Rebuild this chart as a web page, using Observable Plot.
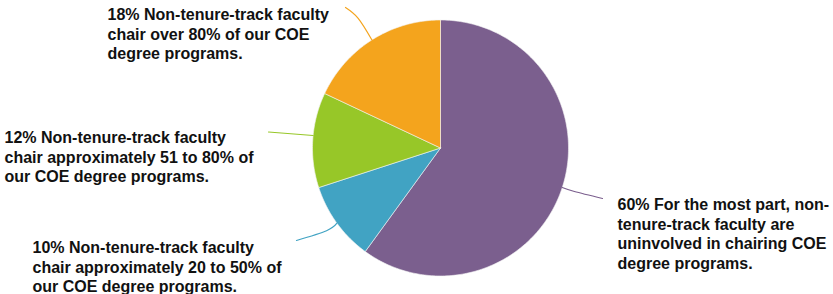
<!DOCTYPE html>
<html>
<head>
<meta charset="utf-8">
<script src="https://cdn.jsdelivr.net/npm/d3@7"></script>
<script src="https://cdn.jsdelivr.net/npm/@observablehq/plot@0.6"></script>
<style>
  html, body { margin: 0; padding: 0; background: #fff; }
  #chart svg { display: block; }
</style>
</head>
<body>
<div id="chart"></div>
<script>
// ---- data ----
const categories = [
  "60% For the most part, non-\ntenure-track faculty are\nuninvolved in chairing COE\ndegree programs.",
  "10% Non-tenure-track faculty\nchair approximately 20 to 50% of\nour COE degree programs.",
  "12% Non-tenure-track faculty\nchair approximately 51 to 80% of\nour COE degree programs.",
  "18% Non-tenure-track faculty\nchair over 80% of our COE\ndegree programs."
];
const values = [60, 10, 12, 18];
const colors = ["#7B5F8E", "#41A3C3", "#97C728", "#F4A41D"];

// ---- layout (not data) ----
const W = 833, H = 294;
const cx = 440, cy = 147.5, R = 128;
// label text anchor (left, cap-top), leader end point, leader bend, start-angle offset (deg)
const labelPos = [
  {x: 617, y: 195.5, ex: 602, ey: 198, bend: 1.1, off: 0},
  {x: 32,  y: 238.5, ex: 296, ey: 240, bend: 1.1, off: 0},
  {x: 4,   y: 128.5, ex: 268, ey: 131.5, bend: null, off: 2},
  {x: 107, y: 5.5,   ex: 345, ey: 7,   bend: 1.2, off: 0}
];

const pie = d3.pie().sort(null).value(d => d)(values);

// slice outlines (geometry derived from values)
const slicePts = [];
pie.forEach((p, i) => {
  slicePts.push({i, x: cx, y: cy});
  const n = Math.max(2, Math.ceil((p.endAngle - p.startAngle) / (Math.PI / 180)));
  for (let k = 0; k <= n; k++) {
    const a = p.startAngle + (p.endAngle - p.startAngle) * k / n;
    slicePts.push({i, x: cx + R * Math.sin(a), y: cy - R * Math.cos(a)});
  }
  slicePts.push({i, x: cx, y: cy});
});

// leader lines
const leaderPts = [];
pie.forEach((p, i) => {
  const L = labelPos[i];
  const a = (p.startAngle + p.endAngle) / 2 + L.off * Math.PI / 180;
  leaderPts.push({i, x: cx + R * Math.sin(a), y: cy - R * Math.cos(a)});
  if (L.bend) leaderPts.push({i, x: cx + R * L.bend * Math.sin(a), y: cy - R * L.bend * Math.cos(a)});
  leaderPts.push({i, x: L.ex, y: L.ey});
});

const labels = categories.map((t, i) => ({t, x: labelPos[i].x, y: labelPos[i].y}));

const chart = Plot.plot({
  width: W,
  height: H,
  margin: 0,
  x: {domain: [0, W], range: [0, W], axis: null},
  y: {domain: [0, H], range: [0, H], axis: null},
  style: {background: "#fff"},
  marks: [
    Plot.line(slicePts, {
      x: "x", y: "y", z: "i",
      fill: d => colors[d.i],
      stroke: "#f4f4f4", strokeWidth: 0.6, strokeLinejoin: "round"
    }),
    Plot.line(leaderPts, {
      x: "x", y: "y", z: "i",
      stroke: d => colors[d.i], strokeWidth: 1.2,
      curve: "natural"
    }),
    Plot.text(labels, {
      x: "x", y: "y", text: "t",
      textAnchor: "start", lineAnchor: "top", lineHeight: 1.23,
      fontSize: 16, fontWeight: "bold",
      fontFamily: "Liberation Sans, Arial, Helvetica, sans-serif",
      fill: "#111"
    })
  ]
});
document.getElementById("chart").appendChild(chart);
</script>
</body>
</html>
